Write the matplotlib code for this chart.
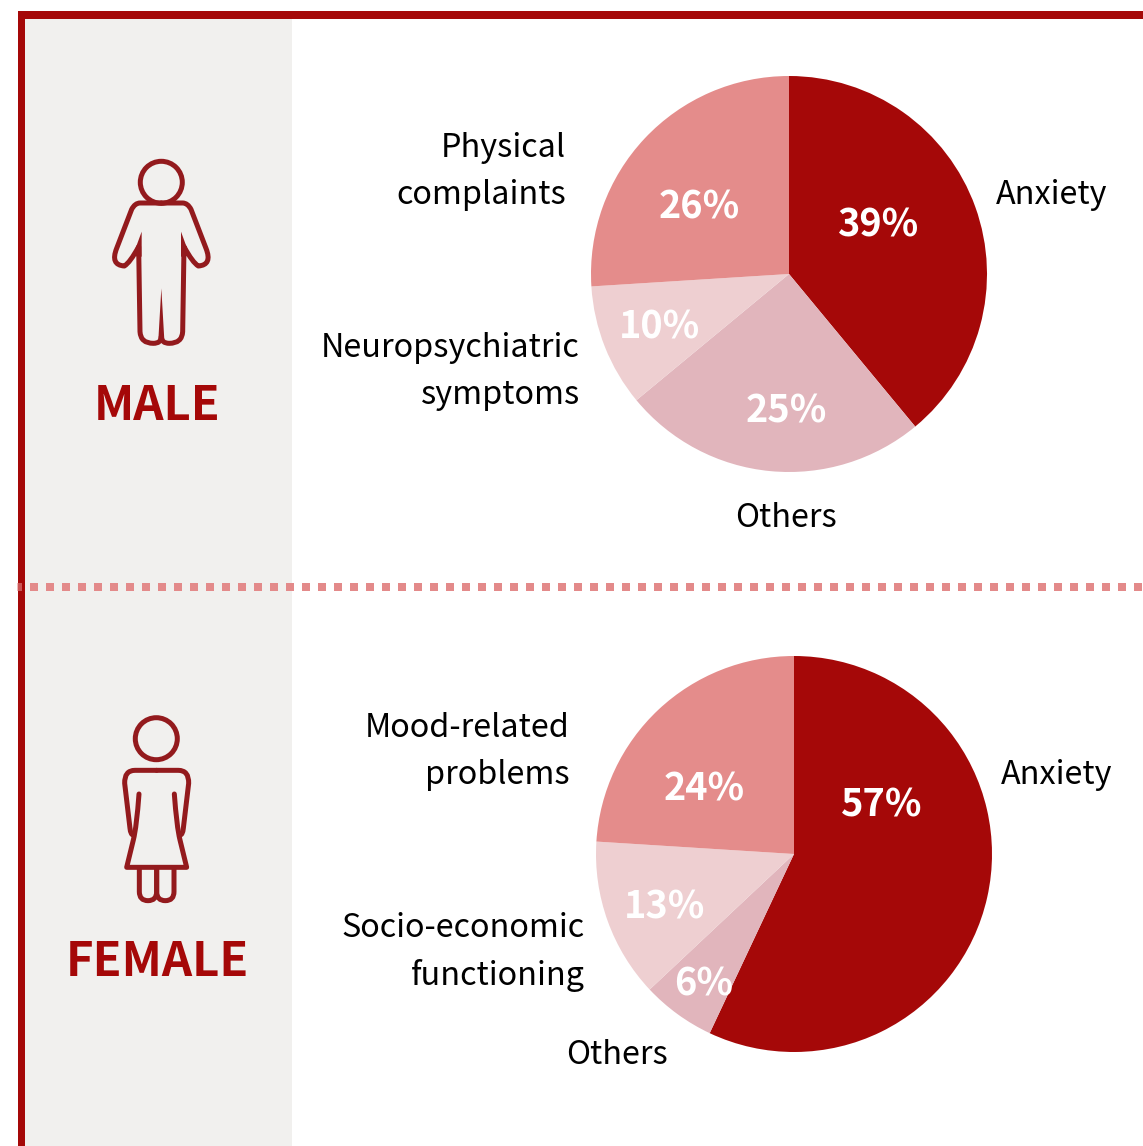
import matplotlib.pyplot as plt
import matplotlib.patches as mpatches
from matplotlib.path import Path

plt.rcParams['font.family'] = ['Noto Sans CJK JP', 'DejaVu Sans']

# Chart data
male_values = [39, 25, 10, 26]
female_values = [57, 6, 13, 24]
male_pct = ["39%", "25%", "10%", "26%"]
female_pct = ["57%", "6%", "13%", "24%"]
male_colors = ["#a50808", "#e1b5bc", "#eecfd1", "#e48c8b"]
female_colors = ["#a50808", "#e1b5bc", "#eecfd1", "#e48c8b"]

W, H = 1143, 1146
RED = "#a50808"
ICON = "#931a1d"
GREY = "#f1f0ee"
DOT = "#e38a8a"

fig = plt.figure(figsize=(W / 100, H / 100), dpi=100)
ax = fig.add_axes([0, 0, 1, 1])


def y(py):
    # picture y runs downward, axes y runs up
    return H - py


def draw_pie(values, colors, cx, cy):
    ax.pie(values, colors=colors, startangle=90, counterclock=False,
           center=(cx, y(cy)), radius=198, frame=True)


draw_pie(male_values, male_colors, 789, 274)
draw_pie(female_values, female_colors, 794, 854)

ax.set_xlim(0, W)
ax.set_ylim(0, H)
ax.set_aspect('equal')
ax.axis('off')

# Side panel and red frame
ax.add_patch(mpatches.Rectangle((25, 0), 267, y(19), fc=GREY, ec='none', zorder=0))
ax.add_patch(mpatches.Rectangle((18, 0), 7, y(11), fc=RED, ec='none', zorder=1))
ax.add_patch(mpatches.Rectangle((18, y(19)), W, 8, fc=RED, ec='none', zorder=1))

# Dotted divider, the first dot sits on the frame
ax.add_patch(mpatches.Rectangle((17, y(591)), 5, 8, fc=DOT, ec='none', alpha=0.6, zorder=2))
for dot_x in range(30, W, 16):
    ax.add_patch(mpatches.Rectangle((dot_x, y(591)), 8, 8, fc=DOT, ec='none', zorder=2))


def zoomed(points, ox, oy):
    return [(ox + a / 3, y(oy + b / 3)) for a, b in points]


def outline(points, codes, ox, oy, lw=3.6):
    ax.add_patch(mpatches.PathPatch(Path(zoomed(points, ox, oy), codes), fc='none', ec=ICON,
                                    lw=lw, capstyle='round', joinstyle='round', zorder=3))


def spike(points, ox, oy):
    ax.add_patch(mpatches.Polygon(zoomed(points, ox, oy), fc=ICON, ec='none', zorder=3))


M, L, C = Path.MOVETO, Path.LINETO, Path.CURVE3

# Male icon
ax.add_patch(mpatches.Circle((161.3, y(182.3)), 21, fc='none', ec=ICON, lw=3.6, zorder=3))
half = [(214, 189), (150, 189), (135, 189), (125, 208), (80, 325), (60, 375), (103, 378),
        (120, 368), (146, 320), (148, 450), (150, 575), (152, 610), (190, 610),
        (214, 610), (214, 590)]
half_codes = [M, L, C, C, L, C, C, C, L, L, L, C, C, C, C]
outline(half, half_codes, 90, 140)
outline([(428 - a, b) for a, b in half], half_codes, 90, 140)
spike([(155, 275), (155, 350), (140, 350), (133, 335)], 90, 140)
spike([(273, 275), (273, 350), (288, 350), (295, 335)], 90, 140)
spike([(214, 445), (205, 600), (223, 600)], 90, 140)

# Female icon
ax.add_patch(mpatches.Circle((156.3, y(738.7)), 21, fc='none', ec=ICON, lw=3.6, zorder=3))
half = [(200, 211), (135, 211), (103, 211), (104, 250), (120, 385), (122, 405), (130, 405)]
half_codes = [M, L, C, C, L, C, C]
outline(half, half_codes, 90, 700)
outline([(400 - a, b) for a, b in half], half_codes, 90, 700)
skirt = [(147, 282), (140, 380), (130, 420), (110, 502), (290, 502), (270, 420), (260, 380), (253, 282)]
outline(skirt, [M, C, C, L, L, L, C, C], 90, 700)
leg = [(148, 505), (148, 575), (148, 602), (174, 602), (200, 602), (200, 575), (200, 505)]
leg_codes = [M, L, C, C, C, C, L]
outline(leg, leg_codes, 90, 700)
outline([(400 - a, b) for a, b in leg], leg_codes, 90, 700)

# Panel headings
ax.text(157, y(406), "MALE", color=RED, fontsize=34, fontweight='bold', ha='center', va='center', zorder=4)
ax.text(157, y(962), "FEMALE", color=RED, fontsize=34, fontweight='bold', ha='center', va='center', zorder=4)

# Percent labels on the slices
for txt, px, py in zip(male_pct, [878, 786, 660, 699], [225, 411, 327, 207]):
    ax.text(px, y(py), txt, color='white', fontsize=27.3, fontweight='bold', ha='center', va='center', zorder=4)
for txt, px, py in zip(female_pct, [882, 704, 665, 704], [805, 984, 907, 789]):
    ax.text(px, y(py), txt, color='white', fontsize=27.3, fontweight='bold', ha='center', va='center', zorder=4)

# Category labels
labels = [
    ("Physical", 566, 148, 'right'), ("complaints", 566, 195, 'right'),
    ("Anxiety", 996, 195, 'left'),
    ("Neuropsychiatric", 580, 348, 'right'), ("symptoms", 580, 395, 'right'),
    ("Others", 786, 518, 'center'),
    ("Mood-related", 570, 728, 'right'), ("problems", 570, 775, 'right'),
    ("Anxiety", 1001, 775, 'left'),
    ("Socio-economic", 585, 928, 'right'), ("functioning", 585, 975, 'right'),
    ("Others", 617, 1055, 'center'),
]
for txt, px, py, align in labels:
    ax.text(px, y(py), txt, color='black', fontsize=23.3, ha=align, va='center', zorder=4)

fig.savefig("out.png", dpi=100)
